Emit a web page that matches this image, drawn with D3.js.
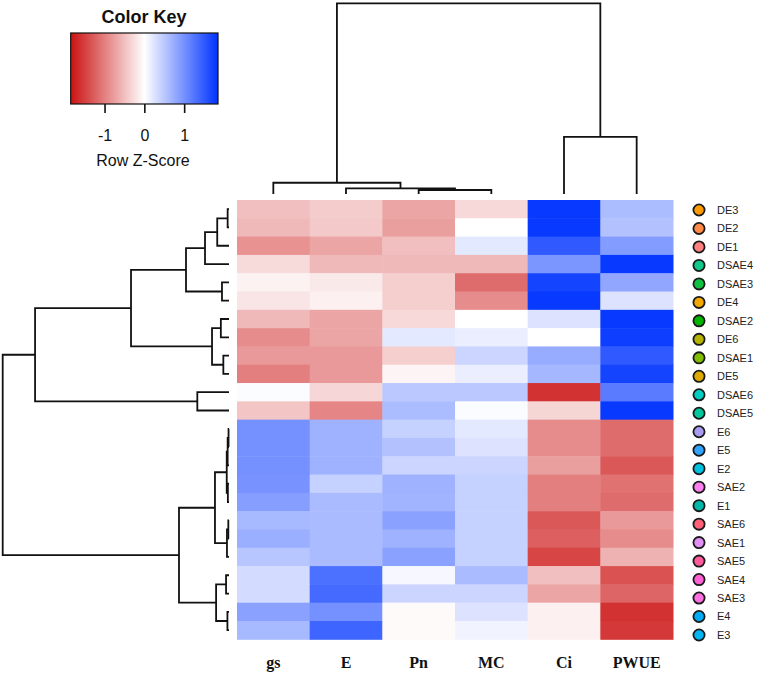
<!DOCTYPE html>
<html>
<head>
<meta charset="utf-8">
<script src="https://cdn.jsdelivr.net/npm/d3@7"></script>
<style>
html,body{margin:0;padding:0;background:#fff;}
svg{display:block;}
</style>
</head>
<body>
<svg id="chart" width="757" height="693"></svg>
<script>
// ---------- DATA ----------
const columns = ["gs", "E", "Pn", "MC", "Ci", "PWUE"];
const rows = ["DE3","DE2","DE1","DSAE4","DSAE3","DE4","DSAE2","DE6","DSAE1","DE5","DSAE6","DSAE5",
              "E6","E5","E2","SAE2","E1","SAE6","SAE1","SAE5","SAE4","SAE3","E4","E3"];
const rowColors = ["#ff9a00","#ff8a48","#ff8080","#10c888","#10c040","#f2a800","#00b400","#b4b400",
                   "#80bc00","#dcaa00","#00cec0","#00c89c",
                   "#a89cf0","#30a4ff","#00c0e0","#ff80f0","#00b8a8","#ff6078","#e090f4","#ff5a9c",
                   "#ff60d4","#ff70e0","#00acf4","#00b6f4"];
const zGs   = [-0.50,-0.55,-0.85,-0.28,-0.10,-0.20,-0.55,-0.90,-0.80,-1.00,0.03,-0.45,
               1.00,1.00,1.00,0.98,0.88,0.63,0.73,0.52,0.32,0.32,0.85,0.63];
const zE    = [-0.40,-0.42,-0.70,-0.55,-0.17,-0.12,-0.70,-0.70,-0.80,-0.80,-0.32,-0.95,
               0.70,0.70,0.70,0.42,0.62,0.62,0.62,0.62,1.30,1.35,1.00,1.40];
const zPn   = [-0.70,-0.75,-0.50,-0.55,-0.38,-0.38,-0.30,0.20,-0.38,-0.08,0.50,0.60,
               0.42,0.55,0.38,0.70,0.68,0.85,0.70,0.85,0.06,0.38,-0.04,-0.04];
const zMC   = [-0.30,0.00,0.20,-0.55,-1.15,-0.90,0.00,0.15,0.38,0.15,0.50,0.03,
               0.20,0.25,0.38,0.42,0.42,0.42,0.42,0.42,0.62,0.38,0.25,0.10];
const zCi   = [1.80,1.80,1.50,0.95,1.70,1.80,0.25,0.00,0.75,0.65,-1.60,-0.33,
               -0.90,-0.90,-0.75,-1.00,-1.00,-1.30,-1.25,-1.45,-0.50,-0.70,-0.12,-0.12];
const zPWUE = [0.60,0.55,0.90,1.80,0.80,0.25,1.80,1.75,1.50,1.70,1.20,1.80,
               -1.15,-1.15,-1.30,-1.10,-1.15,-0.80,-0.90,-0.60,-1.35,-1.20,-1.60,-1.55];
const keyTicks = [-1, 0, 1];
// dendrograms: [mergeHeight, left, right]
const rowTree = [10,
  [8.57,
    [4.33,
      [1.9, [1.06, [0.52, [0.06, "DE3", "DE2"], "DE1"], "DSAE4"], [0.31, "DSAE3", "DE4"]],
      [0.75, [0.36, "DSAE2", "DE6"], [0.25, "DSAE1", "DE5"]]],
    [1.4, "DSAE6", "DSAE5"]],
  [2.21,
    [0.62,
      [0.1, [0.06, [0.02, "E6", "E5"], "E2"], [0.05, "SAE2", "E1"]],
      [0.09, [0.03, "SAE6", "SAE1"], "SAE5"]],
    [0.57, [0.13, "SAE4", "SAE3"], [0.07, "E4", "E3"]]]];
const colTree = [10, [0.59, "gs", [0.3, "E", [0.21, "Pn", "MC"]]], [3.0, "Ci", "PWUE"]];

// ---------- SETUP ----------
const svg = d3.select("#chart");
const series = [zGs, zE, zPn, zMC, zCi, zPWUE];
const cells = [];
rows.forEach((r, i) => columns.forEach((c, j) => cells.push({row: r, col: c, z: series[j][i]})));

const x = d3.scaleBand().domain(columns).range([237, 673]);
const y = d3.scaleBand().domain(rows).range([200, 639.3]);
const color = d3.scaleLinear().domain([-1.85, 0, 1.85]).range(["#cc1212", "#ffffff", "#0033ff"]).clamp(true);

// heatmap
svg.append("g").selectAll("rect").data(cells).join("rect")
  .attr("x", d => x(d.col)).attr("y", d => y(d.row))
  .attr("width", x.bandwidth() + 0.5).attr("height", y.bandwidth() + 0.5)
  .attr("fill", d => color(d.z));

// column labels
svg.append("g").selectAll("text").data(columns).join("text")
  .attr("x", d => x(d) + x.bandwidth() / 2).attr("y", 668)
  .attr("text-anchor", "middle")
  .style("font-family", "'Liberation Serif','Times New Roman',serif")
  .style("font-weight", "bold").style("font-size", "16px").attr("fill", "#111")
  .text(d => d);

// legend for rows
const ly = d3.scalePoint().domain(rows).range([210, 635]);
const lg = svg.append("g");
lg.selectAll("circle").data(rows).join("circle")
  .attr("cx", 699).attr("cy", d => ly(d)).attr("r", 5.6)
  .attr("fill", (d, i) => rowColors[i]).attr("stroke", "#1a1a1a").attr("stroke-width", 1.8);
lg.selectAll("text").data(rows).join("text")
  .attr("x", 717).attr("y", d => ly(d)).attr("dy", "0.36em")
  .style("font-family", "'Liberation Sans',Arial,sans-serif").style("font-size", "11px").attr("fill", "#222")
  .text(d => d);

// dendrogram helper
function layoutTree(node, leafPos) {
  if (typeof node === "string") return {h: 0, pos: leafPos(node), kids: []};
  const a = layoutTree(node[1], leafPos), b = layoutTree(node[2], leafPos);
  return {h: node[0], pos: (a.pos + b.pos) / 2, kids: [a, b]};
}
function collect(n, out) {
  if (n.kids.length) { out.push(n); n.kids.forEach(k => collect(k, out)); }
  return out;
}
// row dendrogram
const rh = d3.scaleLinear().domain([0, 10]).range([229, 2.7]);
const rRoot = layoutTree(rowTree, n => y(n) + y.bandwidth() / 2);
const rNodes = collect(rRoot, []);
const dg = svg.append("g").attr("fill", "none").attr("stroke", "#111").attr("stroke-width", 1.8);
dg.selectAll("path.r").data(rNodes).join("path").attr("class", "r")
  .attr("d", n => {
    const [a, b] = n.kids;
    return `M${rh(a.h)},${a.pos}H${rh(n.h)}V${b.pos}H${rh(b.h)}`;
  });
// column dendrogram
const ch = d3.scaleLinear().domain([0, 10]).range([194, 3.3]);
const cRoot = layoutTree(colTree, n => x(n) + x.bandwidth() / 2);
const cNodes = collect(cRoot, []);
dg.selectAll("path.c").data(cNodes).join("path").attr("class", "c")
  .attr("d", n => {
    const [a, b] = n.kids;
    return `M${a.pos},${ch(a.h)}V${ch(n.h)}H${b.pos}V${ch(b.h)}`;
  });

// ---------- COLOR KEY ----------
const kx = d3.scaleLinear().domain([-1.85, 1.85]).range([70.7, 218]);
const defs = svg.append("defs");
const grad = defs.append("linearGradient").attr("id", "keygrad").attr("x1", "0%").attr("x2", "100%");
d3.range(0, 1.0001, 0.05).forEach(t => {
  grad.append("stop").attr("offset", (t * 100) + "%").attr("stop-color", color(-1.85 + t * 3.7));
});
svg.append("rect").attr("x", kx(-1.85)).attr("y", 33).attr("width", kx(1.85) - kx(-1.85)).attr("height", 71)
  .attr("fill", "url(#keygrad)").attr("stroke", "#111").attr("stroke-width", 1.2);
const kAxis = svg.append("g").attr("transform", "translate(0,104)")
  .call(d3.axisBottom(kx).tickValues(keyTicks).tickSize(9).tickPadding(17).tickFormat(d3.format("d")));
kAxis.select(".domain").remove();
kAxis.selectAll("line").attr("stroke", "#111").attr("stroke-width", 1.6);
kAxis.selectAll("text").style("font-family", "'Liberation Sans',Arial,sans-serif").style("font-size", "16px").attr("fill", "#111")
  .text(d => d < 0 ? "-" + Math.abs(d) : d);
svg.append("text").attr("x", 144).attr("y", 23).attr("text-anchor", "middle")
  .style("font-family", "'Liberation Sans',Arial,sans-serif").style("font-weight", "bold").style("font-size", "18px")
  .attr("fill", "#111").text("Color Key");
svg.append("text").attr("x", 143).attr("y", 166).attr("text-anchor", "middle")
  .style("font-family", "'Liberation Sans',Arial,sans-serif").style("font-size", "16px")
  .attr("fill", "#111").text("Row Z-Score");
</script>
</body>
</html>
